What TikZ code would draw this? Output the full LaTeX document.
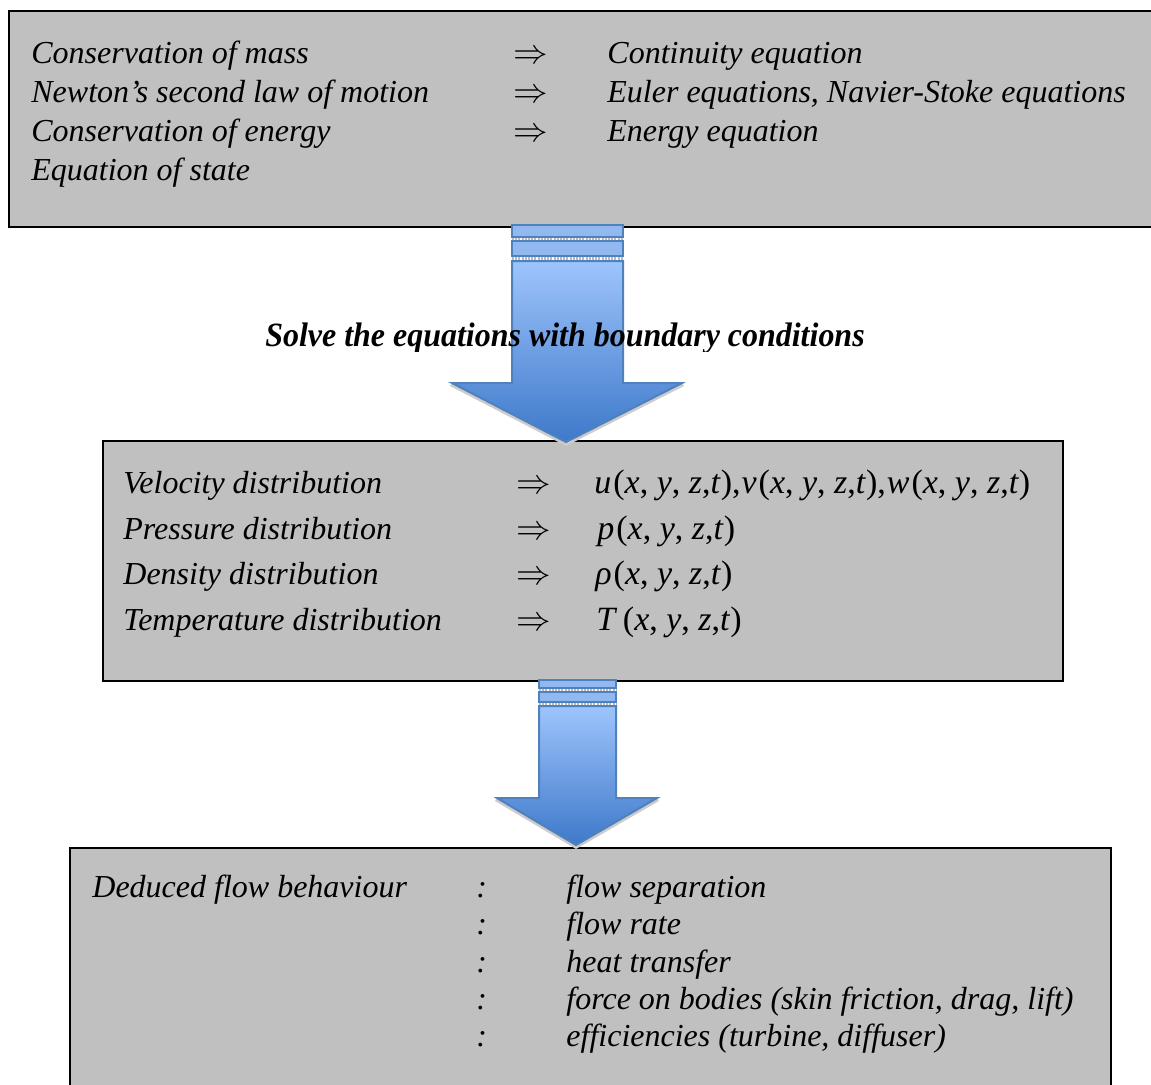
\documentclass[tikz,border=0pt]{standalone}
\usepackage{fontspec}
\setmainfont{Liberation Serif}
\usepackage{graphicx}
\definecolor{boxgray}{RGB}{192,192,192}
\definecolor{arrowtop}{RGB}{158,196,252}
\definecolor{arrowbot}{RGB}{62,121,202}
\definecolor{arrowedge}{RGB}{79,129,189}
\definecolor{bandfill}{RGB}{145,185,240}
\begin{document}
\begin{tikzpicture}[x=0.5pt,y=-0.5pt,
  box/.style={draw=black, line width=1pt, fill=boxgray, inner sep=0pt},
  txt/.style={anchor=base west, inner sep=0pt, font=\fontsize{16}{19}\selectfont\itshape},
  imp/.style={anchor=base west, inner sep=0pt, font=\fontsize{16}{19}\selectfont},
  mathrow/.style={anchor=base west, inner sep=0pt, font=\fontsize{17}{20}\selectfont},
  solvestyle/.style={anchor=base, inner sep=0pt, font=\fontsize{17}{20}\selectfont\bfseries\itshape},
  arrowbody/.style={draw=arrowedge, line width=1pt, top color=arrowtop, bottom color=arrowbot},
  band/.style={draw=arrowedge, line width=1pt, fill=bandfill},
  gapline/.style={draw=gray!55, line width=1.2pt, dash pattern=on 1pt off 0.6pt},
  headshadow/.style={fill=gray!40},
]
\useasboundingbox (0,0) rectangle (1151,1084);
\clip (0,0) rectangle (1151,1084);

% ---------- boxes ----------
\node[box, minimum width=575.5pt, minimum height=108pt] (b1) at (584.5,119) {};
\node[box, minimum width=480pt, minimum height=120pt] (b2) at (583,561) {};
\node[box, minimum width=520.5pt, minimum height=123.5pt] (b3) at (590.5,971.5) {};

% ---------- box 1 text ----------
\node[txt] (l11) at (31,63) {Conservation of mass};
\node[txt] (l12) at (31,102) {Newton’s second law of motion};
\node[txt] (l13) at (31,141) {Conservation of energy};
\node[txt] (l14) at (31,180) {Equation of state};
\node[imp] (i11) at (513,63) {$\Rightarrow$};
\node[imp] (i12) at (513,102) {$\Rightarrow$};
\node[imp] (i13) at (513,141) {$\Rightarrow$};
\node[txt] (r11) at (607,63) {Continuity equation};
\node[txt] (r12) at (607,102) {Euler equations, Navier-Stoke equations};
\node[txt] (r13) at (607,141) {Energy equation};

% ---------- box 2 text ----------
\node[txt] (l21) at (123,493) {Velocity distribution};
\node[txt] (l22) at (123,539) {Pressure distribution};
\node[txt] (l23) at (123,584) {Density distribution};
\node[txt] (l24) at (123,630) {Temperature distribution};
\node[imp] (i21) at (516,493) {$\Rightarrow$};
\node[imp] (i22) at (516,539) {$\Rightarrow$};
\node[imp] (i23) at (516,584) {$\Rightarrow$};
\node[imp] (i24) at (516,630) {$\Rightarrow$};
\node[mathrow] (r21) at (594,493) {\textit{u}\kern1pt(\textit{x}, \textit{y}, \textit{z},\textit{t}),\kern0.5pt\textit{v}\kern1pt(\textit{x}, \textit{y}, \textit{z},\textit{t}),\kern0.5pt\textit{w}\kern1pt(\textit{x}, \textit{y}, \textit{z},\textit{t})};
\node[mathrow] (r22) at (597,539) {\textit{p}\kern1pt(\textit{x}, \textit{y}, \textit{z},\textit{t})};
\node[mathrow] (r23) at (595,584) {\textit{ρ}\kern1pt(\textit{x}, \textit{y}, \textit{z},\textit{t})};
\node[mathrow] (r24) at (596,630) {\textit{T}\,(\textit{x}, \textit{y}, \textit{z},\textit{t})};

% ---------- box 3 text ----------
\node[txt] (l31) at (92,897) {Deduced flow behaviour};
\node[txt] (c31) at (476,897) {:};
\node[txt] (c32) at (476,934) {:};
\node[txt] (c33) at (476,972) {:};
\node[txt] (c34) at (476,1009) {:};
\node[txt] (c35) at (476,1046) {:};
\node[txt] (r31) at (566,897) {flow separation};
\node[txt] (r32) at (566,934) {flow rate};
\node[txt] (r33) at (566,972) {heat transfer};
\node[txt] (r34) at (566,1009) {force on bodies (skin friction, drag, lift)};
\node[txt] (r35) at (566,1046) {efficiencies (turbine, diffuser)};

% ---------- arrow 1 ----------
\fill[headshadow] (452,383) -- (566,442) -- (682,383) -- (684,386) -- (566,446) -- (450,386) -- cycle;
\path[arrowbody] (512,261) -- (623,261) -- (623,383) -- (682,383) -- (566,442) -- (452,383) -- (512,383) -- cycle;
\path[band] (512,225) rectangle (623,237);
\path[band] (512,241) rectangle (623,256);
\draw[gapline] (512,239) -- (623,239);
\draw[gapline] (512,258.5) -- (623,258.5);

% ---------- arrow 2 ----------
\fill[headshadow] (497,798) -- (576,845) -- (657,798) -- (659,801) -- (576,849) -- (495,801) -- cycle;
\path[arrowbody] (539,706) -- (616,706) -- (616,798) -- (657,798) -- (576,845) -- (497,798) -- (539,798) -- cycle;
\path[band] (539,680) rectangle (616,688);
\path[band] (539,692) rectangle (616,702);
\draw[gapline] (539,690) -- (616,690);
\draw[gapline] (539,704) -- (616,704);

% ---------- label over arrow 1 ----------
\begin{scope}
\clip (0,300) rectangle (1151,351);
\node[solvestyle] (solve) at (565,346) {\scalebox{0.94}[1]{Solve the equations with boundary conditions}};
\end{scope}
\end{tikzpicture}
\end{document}
